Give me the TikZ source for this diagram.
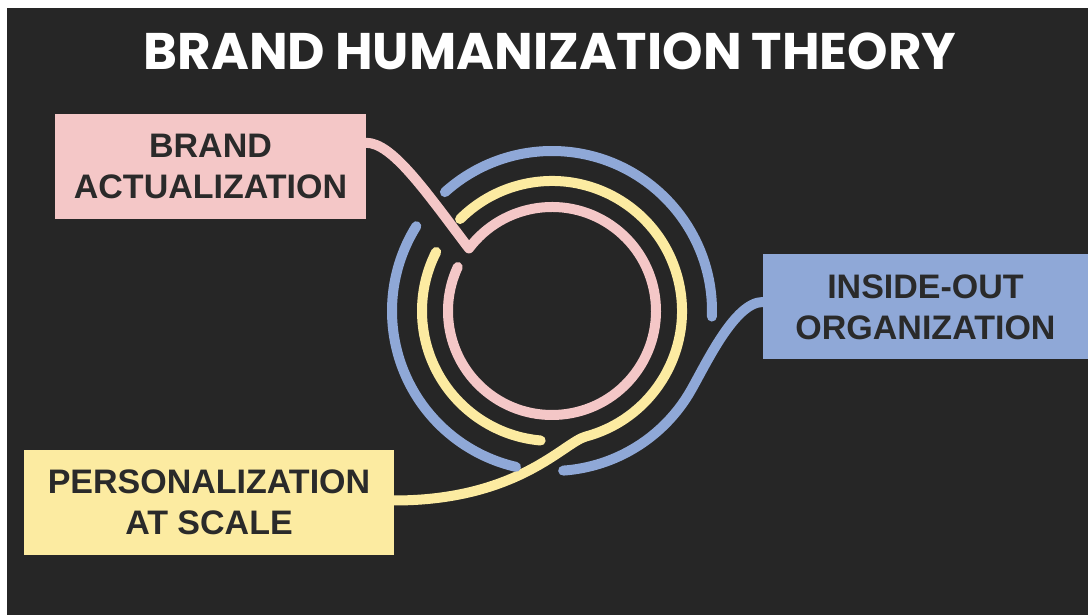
\documentclass[tikz,border=0pt]{standalone}
\usepackage{fontspec}
\usetikzlibrary{calc}
\setmainfont{Liberation Sans}
\newfontfamily\titlefont{Poppins}
\definecolor{bgdark}{HTML}{262626}
\definecolor{pinkc}{HTML}{F4C7C7}
\definecolor{yellowc}{HTML}{FCEBA1}
\definecolor{bluec}{HTML}{8FA8D7}
\definecolor{txtdark}{HTML}{2A2A2A}
\begin{document}
\begin{tikzpicture}[x=1pt,y=1pt,
  labelbox/.style={inner sep=0pt, align=center, text=txtdark,
    font=\bfseries\fontsize{34}{41}\selectfont, minimum height=105pt},
  ring/.style={line width=10pt, line cap=round, line join=round}]
\useasboundingbox (0,0) rectangle (1088,615);
\fill[white] (0,0) rectangle (1088,615);
\fill[bgdark] (7,0) rectangle (1088,607);
% title
\node[text=white, font=\titlefont\bfseries\fontsize{51.5}{60}\selectfont] (title) at (550,564) {BRAND\hspace{10pt}HUMANIZATION\hspace{10pt}THEORY};
% boxes
\node[labelbox, fill=pinkc, minimum width=311pt] (pink) at (210.5,448.5) {BRAND\\ACTUALIZATION};
\node[labelbox, fill=bluec, minimum width=325pt] (blue) at (925.5,308) {INSIDE-OUT\\ORGANIZATION};
\node[labelbox, fill=yellowc, minimum width=370pt] (yellow) at (209,112.5) {PERSONALIZATION\\AT SCALE};
\coordinate (c) at (552,304);
\coordinate (pinkout) at ($(pink.north east)+(0,-29)$);
\coordinate (blueout) at ($(blue.west)+(0,5)$);
\coordinate (yellowout) at ($(yellow.east)+(0,2)$);
% pink
\draw[ring, pinkc] (pinkout) .. controls +(26,0) and +(-44,58) .. ($(c)+(143:104)$)
  arc[start angle=143, end angle=-205, radius=104];
% yellow
\draw[ring, yellowc] ($(c)+(153:130)$) arc[start angle=153, end angle=265, radius=130];
\draw[ring, yellowc] (yellowout) .. controls +(124,0) and +(-22,-6) .. ($(c)+(285:130)$)
  arc[start angle=285, end angle=495, radius=130];
% blue
\draw[ring, bluec] ($(c)+(-2:160)$) arc[start angle=-2, end angle=132, radius=160];
\draw[ring, bluec] ($(c)+(148:160)$) arc[start angle=148, end angle=257, radius=160];
\draw[ring, bluec] ($(c)+(274:160)$) arc[start angle=274, end angle=330, radius=160]
  .. controls +(16,28) and +(-28,0) .. (blueout);
\end{tikzpicture}
\end{document}
